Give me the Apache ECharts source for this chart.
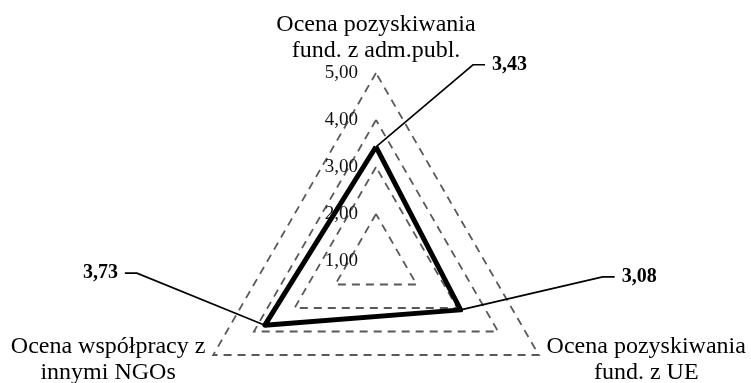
<!DOCTYPE html>
<html>
<head>
<meta charset="utf-8">
<script src="https://cdn.jsdelivr.net/npm/echarts@6/dist/echarts.min.js"></script>
<style>html,body{margin:0;background:#fff}#chart{width:751px;height:383px}</style>
</head>
<body>
<div id="chart"></div>
<script>
// indicators in ECharts order (top, then counter-clockwise)
const categories = ['Ocena pozyskiwania\nfund. z adm.publ.', 'Ocena współpracy z\ninnymi NGOs', 'Ocena pozyskiwania\nfund. z UE'];
const values = [3.43, 3.73, 3.08];
const scaleMin = 1, scaleMax = 5, levels = 4;
// callout elbow relative to each vertex (px)
const calloutOffsets = [[97, -82], [-128, -52], [142, -33]];

const FONT = "'Liberation Serif', 'Times New Roman', serif";
const fmt = v => v.toFixed(2).replace('.', ',');

const chart = echarts.init(document.getElementById('chart'));
chart.setOption({
    animation: false,
    backgroundColor: '#fff',
    radar: {
        center: [376, 261], radius: 188, startAngle: 90, shape: 'polygon',
        splitNumber: levels,
        indicator: categories.map((name, i) => ({ name, min: scaleMin, max: scaleMax, axisLabel: { show: i === 0 } })),
        nameGap: 9,
        axisName: {
            color: '#000', fontFamily: FONT, fontSize: 24, lineHeight: 26,
            formatter: n => n.split('\n').map(l => '{c|' + l + '}').join('\n'),
            rich: { c: { align: 'center', color: '#000', fontFamily: FONT, fontSize: 24, lineHeight: 26 } }
        },
        axisLine: { show: false },
        axisTick: { show: false },
        axisLabel: { show: false, color: '#111', fontFamily: FONT, fontSize: 19, margin: 18, formatter: fmt },
        splitLine: { lineStyle: { color: '#595959', width: 1.8, type: [8, 6] } },
        splitArea: { show: false }
    },
    series: [{
        type: 'radar', symbol: 'none',
        lineStyle: { color: '#000', width: 5 },
        data: [{ value: values }]
    }]
});

// bold value callouts with leader lines, anchored on the radar's own points
const radar = chart.getModel().getComponent('radar').coordinateSystem;
const graphic = [];
values.forEach((v, i) => {
    const [x, y] = radar.dataToPoint(v, i);
    const [dx, dy] = calloutOffsets[i];
    const dir = dx < 0 ? -1 : 1;
    const ex = x + dx, ey = y + dy;
    graphic.push({
        type: 'polyline', z: 10,
        shape: { points: [[x, y], [ex, ey], [ex + dir * 12, ey]] },
        style: { stroke: '#000', lineWidth: 1.6, fill: null }
    });
    graphic.push({
        type: 'text', z: 10, x: ex + dir * 19, y: ey,
        style: {
            text: fmt(v), fontFamily: FONT, fontSize: 20, fontWeight: 'bold', fill: '#000',
            align: dir < 0 ? 'right' : 'left', verticalAlign: 'middle'
        }
    });
});
chart.setOption({ graphic });
</script>
</body>
</html>
